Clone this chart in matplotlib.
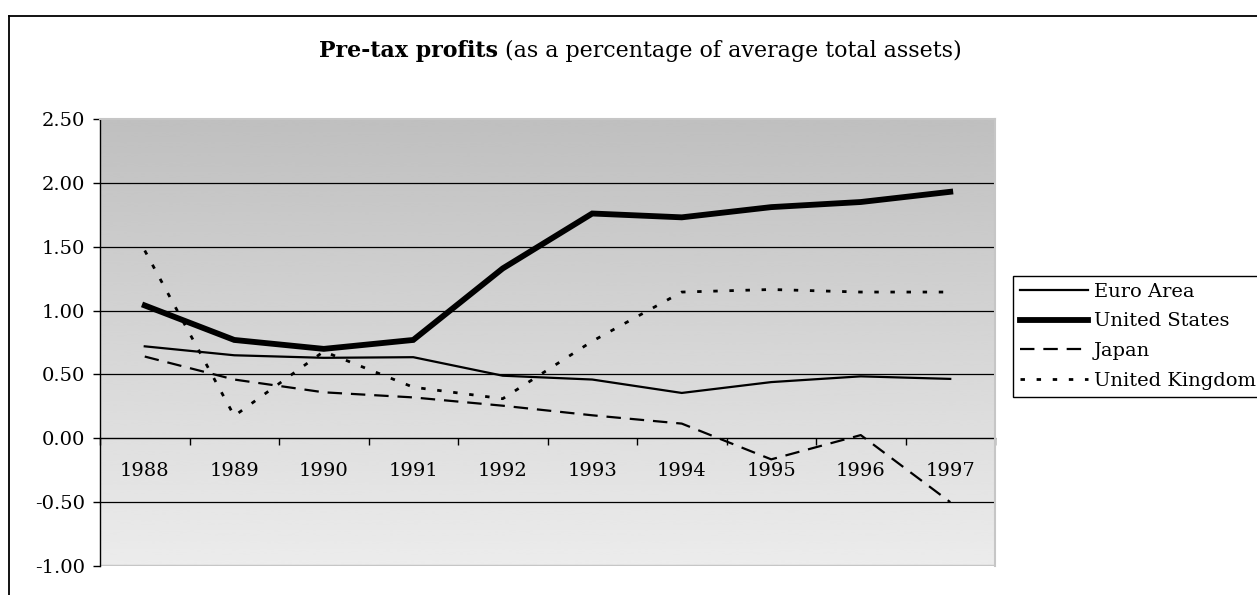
import matplotlib
matplotlib.use("Agg")
import matplotlib.pyplot as plt
import numpy as np
from matplotlib.lines import Line2D

years = ["1988", "1989", "1990", "1991", "1992", "1993", "1994", "1995", "1996", "1997"]
euro_area = [0.72, 0.65, 0.63, 0.635, 0.49, 0.46, 0.355, 0.44, 0.485, 0.465]
united_states = [1.04, 0.77, 0.70, 0.77, 1.33, 1.76, 1.73, 1.81, 1.85, 1.93]
japan = [0.64, 0.46, 0.36, 0.32, 0.255, 0.18, 0.115, -0.165, 0.025, -0.50]
united_kingdom = [1.47, 0.175, 0.68, 0.40, 0.31, 0.76, 1.145, 1.165, 1.145, 1.145]
y_ticks = [-1.0, -0.5, 0.0, 0.5, 1.0, 1.5, 2.0, 2.5]

plt.rcParams['font.family'] = ['DejaVu Serif']
FS = 14

W, H = 1257, 595
fig = plt.figure(figsize=(W / 100, H / 100), dpi=100)
ax = fig.add_axes([100 / W, 1 - 566 / H, (995 - 100) / W, (566 - 119) / H])

x = np.arange(len(years))
ax.set_xlim(-0.5, len(years) - 0.5)
ax.set_ylim(-1.0, 2.5)

# gradient background (dark at top, light at bottom)
grad = np.linspace(0.75, 0.925, 256).reshape(-1, 1)
ax.imshow(grad, extent=(0, 1, 0, 1), transform=ax.transAxes, aspect='auto',
          cmap='gray', vmin=0, vmax=1, zorder=0, interpolation='bicubic')

for yv in y_ticks:
    if yv not in (-1.0, 2.5, 0.0):
        ax.axhline(yv, color='black', lw=0.9, zorder=1)

l1, = ax.plot(x, euro_area, color='black', lw=1.6, zorder=3, label='Euro Area')
l2, = ax.plot(x, united_states, color='black', lw=4.2, zorder=3, label='United States',
              solid_joinstyle='miter')
l3, = ax.plot(x, japan, color='black', lw=1.6, zorder=3, label='Japan', dashes=(6.5, 4))
l4, = ax.plot(x, united_kingdom, color='black', lw=2.0, zorder=3, label='United Kingdom',
              dashes=(1.6, 4.2))

# spines
for s in ['top', 'right']:
    ax.spines[s].set_color('#c6c6c6')
    ax.spines[s].set_linewidth(1.5)
ax.spines['left'].set_color('black')
ax.spines['left'].set_linewidth(1.0)
ax.spines['bottom'].set_position(('data', 0))
ax.spines['bottom'].set_color('black')
ax.spines['bottom'].set_linewidth(1.0)
ax.spines['bottom'].set_zorder(2)
ax.axhline(-1.0, color='#c6c6c6', lw=2.5, zorder=1)

ax.set_yticks(y_ticks)
ax.set_yticklabels([f"{v:.2f}" for v in y_ticks], fontsize=FS)
ax.tick_params(axis='y', direction='out', length=5, width=1, pad=6)

ax.set_xticks(np.arange(-0.5, len(years), 1.0))
ax.set_xticklabels([])
ax.tick_params(axis='x', which='major', direction='out', length=5, width=1)
ax.set_xticks(x, minor=True)
ax.set_xticklabels(years, minor=True, fontsize=FS)
ax.tick_params(axis='x', which='minor', length=0, pad=17)

# figure border
fig.add_artist(Line2D([9 / W, 1.0], [1 - 16 / H, 1 - 16 / H], transform=fig.transFigure,
                      color='black', lw=1.3))
fig.add_artist(Line2D([9 / W, 9 / W], [0, 1 - 16 / H], transform=fig.transFigure,
                      color='black', lw=1.3))

# title with mixed weights, scaled to the reference width
fig.canvas.draw()
r = fig.canvas.get_renderer()
TFS = 16
t1 = fig.text(0, 1 - 51 / H, "Pre-tax profits", fontsize=TFS, fontweight='bold',
              ha='left', va='center')
t2 = fig.text(0, 1 - 51 / H, " (as a percentage of average total assets)", fontsize=TFS,
              ha='left', va='center')
w1 = t1.get_window_extent(r).width
w2 = t2.get_window_extent(r).width
scale = 642.0 / (w1 + w2)
t1.set_fontsize(TFS * scale)
t2.set_fontsize(TFS * scale)
w1 = t1.get_window_extent(r).width
w2 = t2.get_window_extent(r).width
cx = 640
start = cx - (w1 + w2) / 2
t1.set_x(start / W)
t2.set_x((start + w1) / W)

leg = fig.legend(handles=[l1, l2, l3, l4], loc='upper left',
                 bbox_to_anchor=(1013 / W, 1 - 276 / H), fontsize=FS,
                 frameon=True, fancybox=False, edgecolor='black', framealpha=1,
                 handlelength=3.5, handletextpad=0.3, borderpad=0.35,
                 labelspacing=0.6, borderaxespad=0)
leg.get_frame().set_linewidth(1.0)

fig.savefig("out.png", dpi=100)
